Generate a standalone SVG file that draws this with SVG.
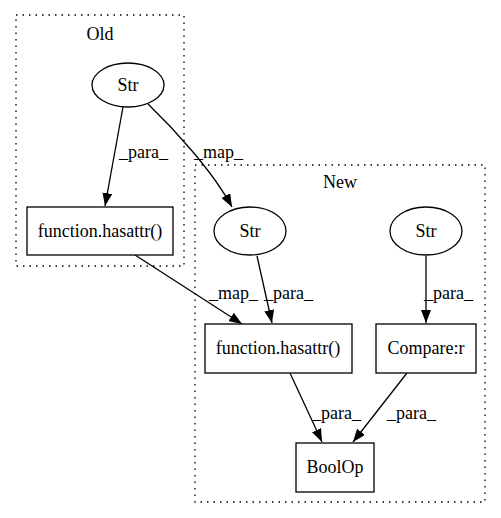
<svg xmlns="http://www.w3.org/2000/svg" width="501" height="518" viewBox="0 0 501 518">
<defs>
<style>
text{font-family:"Liberation Serif","Times New Roman",serif;font-size:18px;fill:#000}
.lbl{text-anchor:middle}
.el{text-anchor:start}
.cl{fill:none;stroke:#000;stroke-dasharray:1.5,5;stroke-width:1.3}
.nd{fill:#fff;stroke:#000;stroke-width:1.3}
.ed{fill:none;stroke:#000;stroke-width:1.3}
</style>
<marker id="ah" markerWidth="13" markerHeight="10" refX="13" refY="5" orient="auto" markerUnits="userSpaceOnUse">
<path d="M0,0 L13,5 L0,10 Z" fill="#000"/>
</marker>
</defs>
<rect width="501" height="518" fill="#fff"/>
<g id="cluster-old">
<rect class="cl" x="16" y="15" width="168" height="251"/>
<text class="lbl" x="100" y="40">Old</text>
</g>
<g id="cluster-new">
<rect class="cl" x="195" y="165" width="290" height="337"/>
<text class="lbl" x="340" y="188">New</text>
</g>
<g id="edges">
<path class="ed" d="M123,107 L105,206" marker-end="url(#ah)"/>
<text class="el" x="119" y="158">_para_</text>
<path class="ed" d="M148,104 C172,127 212,170 232,207" marker-end="url(#ah)"/>
<text class="el" x="194" y="158">_map_</text>
<path class="ed" d="M257,256 L272,323" marker-end="url(#ah)"/>
<text class="el" x="264" y="299">_para_</text>
<path class="ed" d="M426,256 L426,323" marker-end="url(#ah)"/>
<text class="el" x="424" y="299">_para_</text>
<path class="ed" d="M135,255 L242,324" marker-end="url(#ah)"/>
<text class="el" x="209" y="299">_map_</text>
<path class="ed" d="M290,373 L322,442" marker-end="url(#ah)"/>
<text class="el" x="312" y="419">_para_</text>
<path class="ed" d="M407,373 L353,442" marker-end="url(#ah)"/>
<text class="el" x="387" y="419">_para_</text>
</g>
<g id="old-str">
<ellipse class="nd" cx="128" cy="85" rx="36" ry="22"/>
<text class="lbl" x="128" y="91">Str</text>
</g>
<g id="old-hasattr">
<rect class="nd" x="27" y="207" width="146" height="48"/>
<text class="lbl" x="100" y="237">function.hasattr()</text>
</g>
<g id="new-str1">
<ellipse class="nd" cx="250" cy="231" rx="36" ry="24"/>
<text class="lbl" x="250" y="237">Str</text>
</g>
<g id="new-str2">
<ellipse class="nd" cx="426" cy="231" rx="36" ry="24"/>
<text class="lbl" x="426" y="237">Str</text>
</g>
<g id="new-hasattr">
<rect class="nd" x="205" y="324" width="147" height="49"/>
<text class="lbl" x="278" y="354">function.hasattr()</text>
</g>
<g id="compare">
<rect class="nd" x="376" y="324" width="100" height="49"/>
<text class="lbl" x="426" y="354">Compare:r</text>
</g>
<g id="boolop">
<rect class="nd" x="296" y="443" width="78" height="49"/>
<text class="lbl" x="335" y="473">BoolOp</text>
</g>
</svg>
